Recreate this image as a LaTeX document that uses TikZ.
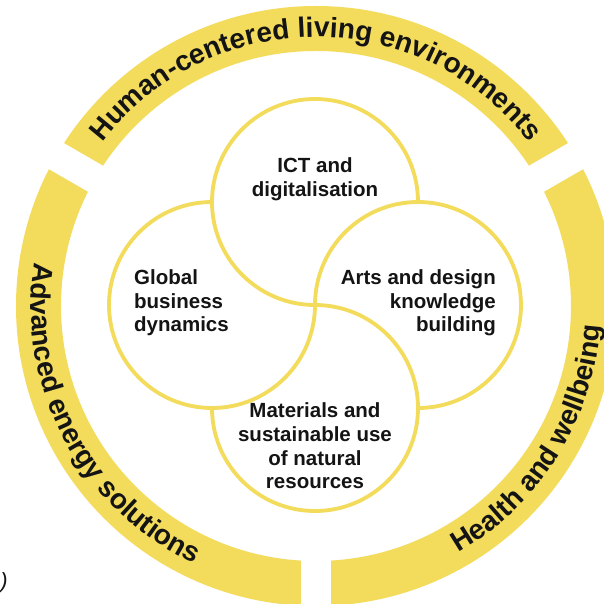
\documentclass[tikz,border=0pt]{standalone}
\usepackage{fontspec}
\setmainfont{Liberation Sans}
\usetikzlibrary{decorations.text}
\definecolor{ringyellow}{RGB}{243,219,91}
\definecolor{inktext}{RGB}{20,20,20}
\newcommand{\bandfont}{\fontsize{28}{32}\selectfont\bfseries}
\newcommand{\innerfont}{\fontsize{20.5}{23.6}\selectfont\bfseries}
\begin{document}
\begin{tikzpicture}[x=1pt,y=1pt,
  petal/.style={draw=ringyellow, line width=3.8pt},
  innerlabel/.style={font=\innerfont, text=inktext, inner sep=0pt},
  gapline/.style={draw=white, line width=30pt},
  bandtext/.style={decorate, decoration={text along path, text align=center, text color=inktext}}
]
\useasboundingbox (-316,-298) rectangle (287,306);
\fill[white] (-316,-298) rectangle (287,306);
\coordinate (O) at (0,0);
% outer ring with three gaps
\fill[ringyellow, even odd rule] (O) circle[radius=300pt] (O) circle[radius=255pt];
\foreach \a in {30,150,270} \draw[gapline] (\a:240pt) -- (\a:330pt);
% band texts
\path[bandtext, decoration={text={|\bandfont|Human-centered living environments}}]
  (O) ++(150:269pt) arc[start angle=150, end angle=30, radius=269pt];
\path[bandtext, decoration={text={|\bandfont|Advanced energy solutions}}]
  (O) ++(150:285pt) arc[start angle=150, end angle=266, radius=285pt];
\path[bandtext, decoration={text={|\bandfont|Health and wellbeing}}]
  (O) ++(270:285pt) arc[start angle=270, end angle=386, radius=285pt];
% pinwheel circles
\coordinate (Ct) at (-1,104);
\coordinate (Cl) at (-104,1);
\coordinate (Cb) at (-1,-102);
\coordinate (Cr) at (102,1);
\draw[petal] ([shift={(0:103pt)}]Ct) arc[start angle=0, end angle=270, radius=103pt];
\draw[petal] ([shift={(90:103pt)}]Cl) arc[start angle=90, end angle=360, radius=103pt];
\draw[petal] ([shift={(180:103pt)}]Cb) arc[start angle=180, end angle=450, radius=103pt];
\draw[petal] ([shift={(270:103pt)}]Cr) arc[start angle=270, end angle=540, radius=103pt];
% inner labels
\node[innerlabel, align=center] (ict) at (-1,127) {ICT and\\digitalisation};
\node[innerlabel, align=left, anchor=west] (global) at (-182,3) {Global\\business\\dynamics};
\node[innerlabel, align=right, anchor=east] (arts) at (180,3) {Arts and design\\knowledge\\building};
\node[innerlabel, align=center] (materials) at (-1,-140) {Materials and\\sustainable use\\of natural\\resources};
\node[font=\fontsize{22}{24}\selectfont\itshape, text=inktext, inner sep=0pt] (paren) at (-312,-277) {)};
\end{tikzpicture}
\end{document}
